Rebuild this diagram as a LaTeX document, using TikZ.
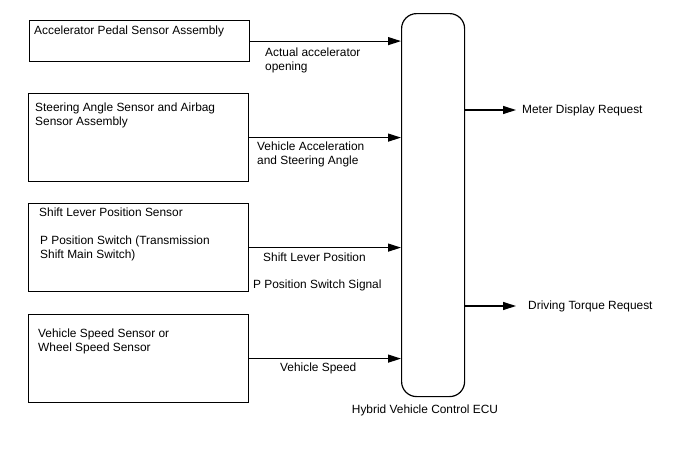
\documentclass[tikz,border=0pt]{standalone}
\usepackage{fontspec}
\setmainfont{Liberation Sans}
\usetikzlibrary{arrows.meta}

\begin{document}
\begin{tikzpicture}[
  x=1pt, y=-1pt,
  every node/.style={font=\fontsize{11.9}{14}\selectfont, inner sep=0pt},
  sensor/.style={draw, line width=1.2pt, anchor=north west},
  ecu/.style={draw, line width=1.2pt, rounded corners=15pt, anchor=north west, minimum width=63pt, minimum height=383pt},
  txt/.style={anchor=west, align=left},
  sig/.style={-{Triangle[length=13pt, width=8pt]}, line width=1.2pt}
]
  \useasboundingbox (0,0) rectangle (688,463);

  % sensor boxes
  \node[sensor, minimum width=220pt, minimum height=41pt] (b1) at (29,20) {};
  \node[sensor, minimum width=220pt, minimum height=88pt] (b2) at (28,93) {};
  \node[sensor, minimum width=220pt, minimum height=88pt] (b3) at (28,203) {};
  \node[sensor, minimum width=220pt, minimum height=88pt] (b4) at (28,314) {};

  \node[txt] (t1) at (34,31) {Accelerator Pedal Sensor Assembly};
  \node[txt] (t2) at (35,115) {Steering Angle Sensor and Airbag\\Sensor Assembly};
  \node[txt] (t3) at (39,212) {Shift Lever Position Sensor};
  \node[txt] (t3b) at (40,248) {P Position Switch (Transmission\\Shift Main Switch)};
  \node[txt] (t4) at (38,341) {Vehicle Speed Sensor or\\Wheel Speed Sensor};

  % ECU
  \node[ecu] (ecu) at (401,13) {};
  \node (ecul) at (425,410) {Hybrid Vehicle Control ECU};

  % inputs
  \draw[sig] (b1.east) -- (b1.east -| ecu.west);
  \draw[sig] (b2.east) -- (b2.east -| ecu.west);
  \draw[sig] (b3.east) -- (b3.east -| ecu.west);
  \draw[sig] (b4.east) -- (b4.east -| ecu.west);

  \node[txt] (s1) at (265,60) {Actual accelerator\\opening};
  \node[txt] (s2) at (257,154) {Vehicle Acceleration\\and Steering Angle};
  \node[txt] (s3) at (263,257) {Shift Lever Position};
  \node[txt] (s3b) at (253,285) {P Position Switch Signal};
  \node[txt] (s4) at (280,368) {Vehicle Speed};

  % outputs
  \coordinate (o1) at (516,110);
  \coordinate (o2) at (516,306);
  \draw[sig] (ecu.east |- o1) -- (o1);
  \draw[sig] (ecu.east |- o2) -- (o2);
  \node[txt] (m1) at (522,110) {Meter Display Request};
  \node[txt] (m2) at (528,306) {Driving Torque Request};
\end{tikzpicture}
\end{document}
